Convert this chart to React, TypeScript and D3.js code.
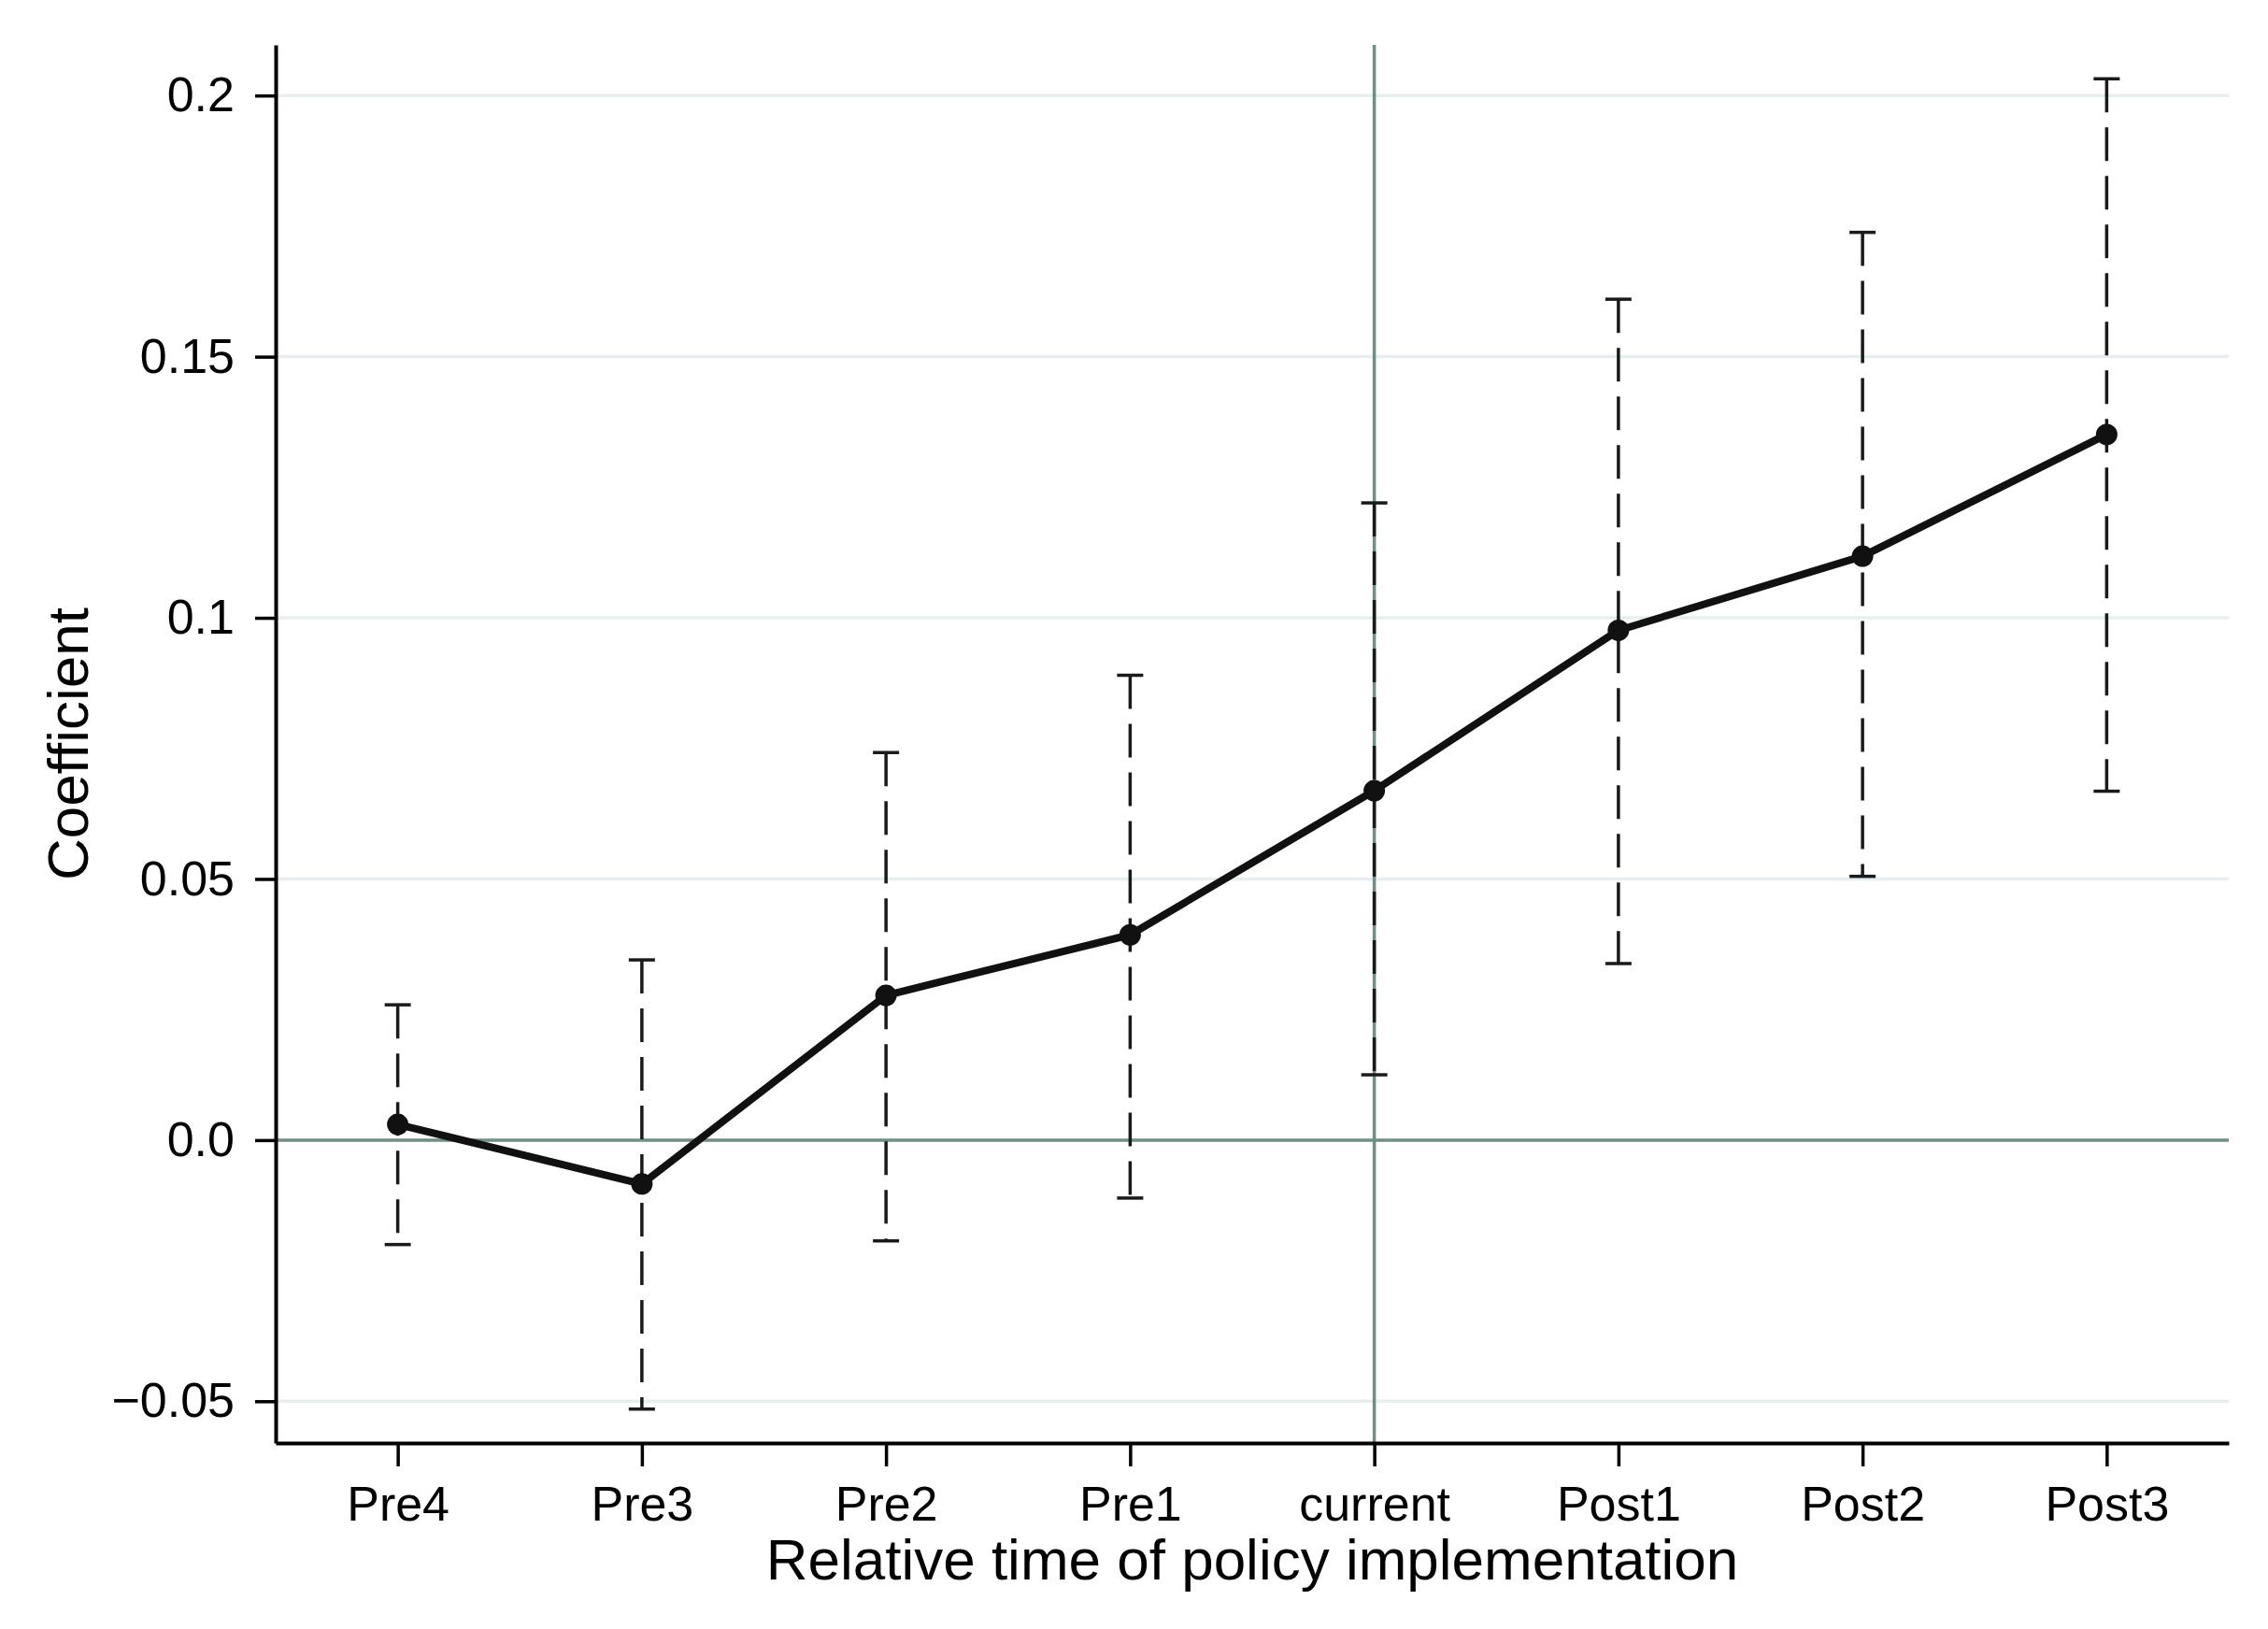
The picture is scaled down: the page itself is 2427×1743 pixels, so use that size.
import { useEffect, useRef } from 'react'
import * as d3 from 'd3'

const periods = ['Pre4', 'Pre3', 'Pre2', 'Pre1', 'current', 'Post1', 'Post2', 'Post3']
const coef = [0.003, -0.0084, 0.0277, 0.0393, 0.0669, 0.0976, 0.1118, 0.1351]
const ciLow = [-0.02, -0.0515, -0.0193, -0.0111, 0.0125, 0.0338, 0.0505, 0.0668]
const ciHigh = [0.0259, 0.0345, 0.0742, 0.089, 0.122, 0.161, 0.1738, 0.2032]
const yTicks = [-0.05, 0, 0.05, 0.1, 0.15, 0.2]
const yTickLabels = ['\u22120.05', '0.0', '0.05', '0.1', '0.15', '0.2']
const refPeriod = 'current'

export default function App() {
  const ref = useRef<SVGSVGElement>(null)

  useEffect(() => {
    const W = 2427, H = 1743
    const left = 295, right = 2385, top = 48, bottom = 1544
    const font = '"Liberation Sans", Arial, sans-serif'
    const refColor = '#6f8f86'
    const gridColor = '#e7eef0'

    const svg = d3.select(ref.current)
    svg.selectAll('*').remove()
    svg.attr('width', W).attr('height', H)

    svg.append('rect').attr('width', W).attr('height', H).attr('fill', '#fff')

    const x = d3.scalePoint<string>().domain(periods).range([left, right]).padding(0.5)
    const y = d3.scaleLinear().domain([-0.058, 0.2097]).range([bottom, top])

    // gridlines
    svg.append('g')
      .selectAll('line')
      .data(yTicks.filter((t) => t !== 0))
      .enter()
      .append('line')
      .attr('x1', left)
      .attr('x2', right)
      .attr('y1', (d) => y(d))
      .attr('y2', (d) => y(d))
      .attr('stroke', gridColor)
      .attr('stroke-width', 3.5)

    // reference lines
    svg.append('line')
      .attr('x1', left).attr('x2', right)
      .attr('y1', y(0)).attr('y2', y(0))
      .attr('stroke', refColor).attr('stroke-width', 3.5)
    svg.append('line')
      .attr('x1', x(refPeriod)!).attr('x2', x(refPeriod)!)
      .attr('y1', top).attr('y2', bottom)
      .attr('stroke', refColor).attr('stroke-width', 3.5)

    const data = periods.map((p, i) => ({ p, c: coef[i], lo: ciLow[i], hi: ciHigh[i] }))

    // error bars
    const bars = svg.append('g').attr('stroke', '#1a1a1a').attr('stroke-width', 3.5)
    bars.selectAll('.stem')
      .data(data)
      .enter()
      .append('line')
      .attr('x1', (d) => x(d.p)!)
      .attr('x2', (d) => x(d.p)!)
      .attr('y1', (d) => y(d.hi))
      .attr('y2', (d) => y(d.lo))
      .attr('stroke-dasharray', '36 16')
    const capHalf = 14
    bars.selectAll('.capHi')
      .data(data)
      .enter()
      .append('line')
      .attr('x1', (d) => x(d.p)! - capHalf)
      .attr('x2', (d) => x(d.p)! + capHalf)
      .attr('y1', (d) => y(d.hi))
      .attr('y2', (d) => y(d.hi))
    bars.selectAll('.capLo')
      .data(data)
      .enter()
      .append('line')
      .attr('x1', (d) => x(d.p)! - capHalf)
      .attr('x2', (d) => x(d.p)! + capHalf)
      .attr('y1', (d) => y(d.lo))
      .attr('y2', (d) => y(d.lo))

    // connecting line + markers
    const line = d3.line<{ p: string; c: number }>()
      .x((d) => x(d.p)!)
      .y((d) => y(d.c))
    svg.append('path')
      .datum(data)
      .attr('d', line)
      .attr('fill', 'none')
      .attr('stroke', '#111')
      .attr('stroke-width', 8)
      .attr('stroke-linejoin', 'round')
    svg.append('g')
      .selectAll('circle')
      .data(data)
      .enter()
      .append('circle')
      .attr('cx', (d) => x(d.p)!)
      .attr('cy', (d) => y(d.c))
      .attr('r', 11.5)
      .attr('fill', '#111')

    // axes
    const yAxis = svg.append('g')
      .attr('transform', `translate(${left},0)`)
      .call(
        d3.axisLeft(y)
          .tickValues(yTicks)
          .tickFormat((d, i) => yTickLabels[i])
          .tickSize(22)
          .tickSizeOuter(0)
          .tickPadding(22),
      )
    const xAxis = svg.append('g')
      .attr('transform', `translate(0,${bottom})`)
      .call(d3.axisBottom(x).tickSize(25).tickSizeOuter(0).tickPadding(21))

    for (const ax of [yAxis, xAxis]) {
      ax.select('.domain').attr('stroke', '#000').attr('stroke-width', 4)
      ax.selectAll('.tick line').attr('stroke', '#000').attr('stroke-width', 3.5)
      ax.selectAll('.tick text')
        .attr('fill', '#000')
        .style('font-family', font)
        .style('font-size', '52px')
    }

    // titles
    svg.append('text')
      .attr('x', (left + right) / 2)
      .attr('y', 1690)
      .attr('text-anchor', 'middle')
      .style('font-family', font)
      .style('font-size', '62px')
      .text('Relative time of policy implementation')

    svg.append('text')
      .attr('transform', `translate(94,${(top + bottom) / 2}) rotate(-90)`)
      .attr('text-anchor', 'middle')
      .style('font-family', font)
      .style('font-size', '62px')
      .text('Coefficient')
  }, [])

  return (
    <div style={{ position: 'absolute', left: 0, top: 0 }}>
      <svg ref={ref} style={{ display: 'block' }} />
    </div>
  )
}
